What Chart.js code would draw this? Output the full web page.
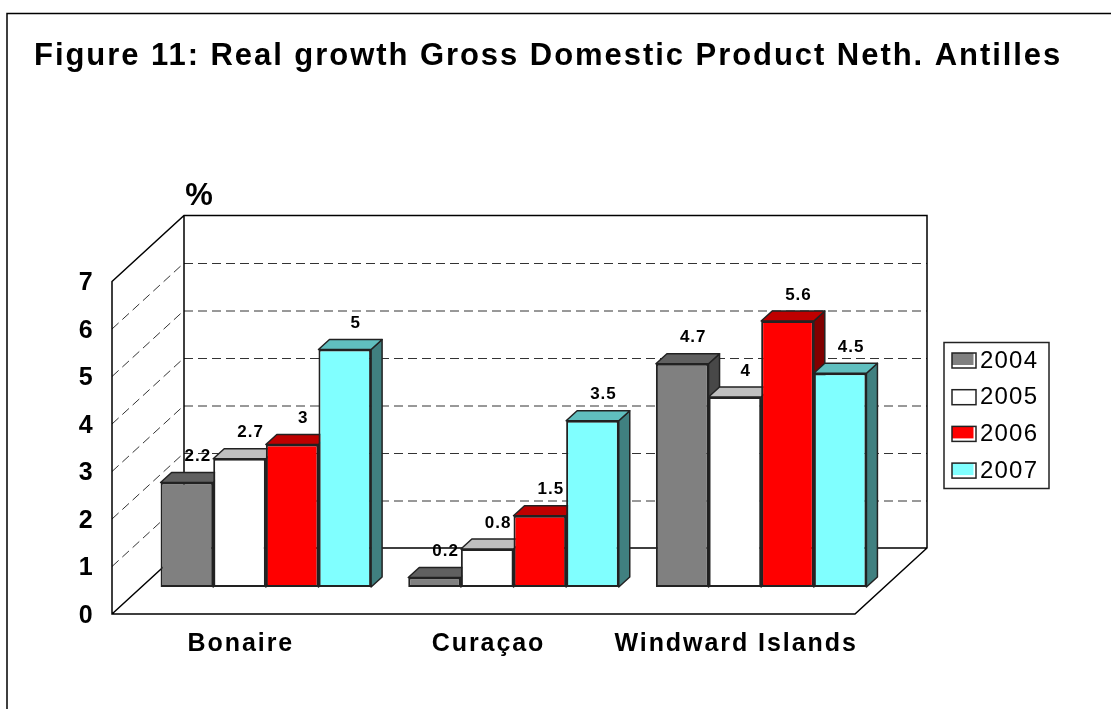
<!DOCTYPE html>
<html>
<head>
<meta charset="utf-8">
<title>Figure 11</title>
<style>
  html, body { margin: 0; padding: 0; background: #fff; }
  #wrap { position: relative; width: 1111px; height: 709px; }
  canvas { display: block; }
</style>
<script src="https://cdn.jsdelivr.net/npm/chart.js@4"></script>
</head>
<body>
<div id="wrap"><canvas id="growth" width="1111" height="709"></canvas></div>
<script>
var categories = ["Bonaire", "Curaçao", "Windward Islands"];
var years = ["2004", "2005", "2006", "2007"];
var values2004 = [2.2, 0.2, 4.7];
var values2005 = [2.7, 0.8, 4];
var values2006 = [3, 1.5, 5.6];
var values2007 = [5, 3.5, 4.5];
var yTicks = [0, 1, 2, 3, 4, 5, 6, 7];

var titleText = "Figure 11: Real growth Gross Domestic Product Neth. Antilles";
var unitText = "%";

// front, top and side colours of each series
var frontColors = ["#808080", "#ffffff", "#ff0000", "#80ffff"];
var topColors = ["#606060", "#bfbfbf", "#bf0000", "#60bfbf"];
var sideColors = ["#484848", "#808080", "#800000", "#408080"];

var FONT = '"Liberation Sans", Arial, sans-serif';
var BAR_DX = 11, BAR_DY = 10; // depth of a bar
var FRONT_DX = -30, FRONT_DY = 27; // floor front edge, from the bars' base
var BACK_DX = 42, BACK_DY = -39; // back wall, from the bars' base

function poly(ctx, pts, fill, stroke) {
  ctx.beginPath();
  ctx.moveTo(pts[0][0], pts[0][1]);
  for (var i = 1; i < pts.length; i++) ctx.lineTo(pts[i][0], pts[i][1]);
  ctx.closePath();
  if (fill) { ctx.fillStyle = fill; ctx.fill(); }
  if (stroke) { ctx.strokeStyle = stroke; ctx.stroke(); }
}

var box3d = {
  id: "box3d",
  afterLayout: function (chart) {
    // the right padding would otherwise squeeze the title through maxWidth
    chart.titleBlock.right = chart.width;
  },
  beforeDraw: function (chart) {
    // the original text is widely spaced, title and axis labels inherit this
    chart.ctx.letterSpacing = "1.95px";
  },
  beforeDatasetsDraw: function (chart) {
    var ctx = chart.ctx, y = chart.scales.y, a = chart.chartArea;
    var lx = a.left, rx = a.right, by = y.getPixelForValue(0), ty = y.getPixelForValue(7);
    ctx.save();

    // dashed grid on back and left walls
    ctx.lineWidth = 1;
    yTicks.forEach(function (t) {
      var py = y.getPixelForValue(t);
      if (t === 0 || t === 7) return;
      ctx.setLineDash([9, 5]);
      ctx.strokeStyle = "#333333";
      ctx.beginPath();
      ctx.moveTo(lx + BACK_DX, py + BACK_DY + 0.5);
      ctx.lineTo(rx + BACK_DX, py + BACK_DY + 0.5);
      ctx.stroke();
      ctx.beginPath();
      ctx.moveTo(lx + FRONT_DX, py + FRONT_DY);
      ctx.lineTo(lx + BACK_DX, py + BACK_DY);
      ctx.stroke();
    });
    ctx.setLineDash([]);

    // wall and floor outlines
    ctx.lineWidth = 1.5;
    ctx.strokeStyle = "#000000";
    ctx.beginPath();
    ctx.moveTo(lx + FRONT_DX, ty + FRONT_DY);
    ctx.lineTo(lx + BACK_DX, ty + BACK_DY);
    ctx.lineTo(rx + BACK_DX, ty + BACK_DY);
    ctx.lineTo(rx + BACK_DX, by + BACK_DY);
    ctx.lineTo(rx + FRONT_DX, by + FRONT_DY);
    ctx.lineTo(lx + FRONT_DX, by + FRONT_DY);
    ctx.closePath();
    ctx.moveTo(lx + BACK_DX, ty + BACK_DY);
    ctx.lineTo(lx + BACK_DX, by + BACK_DY);
    ctx.lineTo(rx + BACK_DX, by + BACK_DY);
    ctx.moveTo(lx + BACK_DX, by + BACK_DY);
    ctx.lineTo(lx + FRONT_DX, by + FRONT_DY);
    ctx.stroke();

    // top and side faces, left to right so nearer faces cover
    ctx.lineWidth = 1.5;
    ctx.lineJoin = "round";
    categories.forEach(function (c, ci) {
      chart.data.datasets.forEach(function (ds, di) {
        var bar = chart.getDatasetMeta(di).data[ci];
        var l = bar.x - bar.width / 2, r = bar.x + bar.width / 2, t = bar.y, b = bar.base;
        poly(ctx, [[r, t], [r + BAR_DX, t - BAR_DY], [r + BAR_DX, b - BAR_DY], [r, b]], sideColors[di], "#222222");
        poly(ctx, [[l, t], [l + BAR_DX, t - BAR_DY], [r + BAR_DX, t - BAR_DY], [r, t]], topColors[di], "#222222");
      });
    });
    ctx.restore();
  },
  afterDatasetsDraw: function (chart) {
    var ctx = chart.ctx;
    ctx.save();
    ctx.fillStyle = "#000000";
    ctx.font = "bold 17px " + FONT;
    ctx.letterSpacing = "1px";
    ctx.textAlign = "center";
    ctx.textBaseline = "middle";
    chart.data.datasets.forEach(function (ds, di) {
      chart.getDatasetMeta(di).data.forEach(function (bar, ci) {
        ctx.fillText(String(ds.data[ci]), bar.x + 11, bar.y - 26);
      });
    });

    // unit label above the left wall
    var a = chart.chartArea;
    ctx.letterSpacing = "0px";
    ctx.font = "bold 31px " + FONT;
    ctx.fillText(unitText, a.left + 57, 196);

    // legend box
    ctx.lineWidth = 1.5;
    ctx.strokeStyle = "#222222";
    ctx.strokeRect(944, 342.5, 105, 146);
    ctx.font = "24px " + FONT;
    ctx.letterSpacing = "1.2px";
    ctx.textAlign = "left";
    years.forEach(function (yr, i) {
      var ry = 353 + i * 36.7;
      ctx.fillStyle = frontColors[i];
      ctx.fillRect(952, ry, 21.5, 12);
      ctx.strokeStyle = "#222222";
      ctx.strokeRect(952, ry, 24, 15);
      ctx.fillStyle = "#000000";
      ctx.fillText(yr, 980, ry + 8);
    });

    // outer frame: only the top and left edges are in the picture
    ctx.lineWidth = 1.5;
    ctx.strokeStyle = "#000000";
    ctx.beginPath();
    ctx.moveTo(7, 709);
    ctx.lineTo(7, 13.5);
    ctx.lineTo(1111, 13.5);
    ctx.stroke();
    ctx.restore();
  }
};

new Chart(document.getElementById("growth"), {
  type: "bar",
  plugins: [box3d],
  data: {
    labels: categories,
    datasets: [
      { label: years[0], data: values2004, backgroundColor: frontColors[0] },
      { label: years[1], data: values2005, backgroundColor: frontColors[1] },
      { label: years[2], data: values2006, backgroundColor: frontColors[2] },
      { label: years[3], data: values2007, backgroundColor: frontColors[3] }
    ]
  },
  options: {
    responsive: false,
    animation: false,
    devicePixelRatio: 1,
    layout: { padding: { left: 34, right: 226, top: 0, bottom: 0 } },
    datasets: {
      bar: {
        categoryPercentage: 0.85,
        barPercentage: 1,
        borderWidth: 2,
        borderColor: "#222222",
        borderSkipped: false
      }
    },
    plugins: {
      legend: { display: false },
      tooltip: { enabled: false },
      title: {
        display: true,
        text: titleText,
        align: "start",
        color: "#000000",
        font: { family: FONT, size: 31, weight: "bold", lineHeight: 1 },
        padding: { top: 40.5, bottom: 183 }
      }
    },
    scales: {
      x: {
        grid: { display: false },
        border: { display: false },
        afterFit: function (scale) { scale.height = 122; },
        ticks: {
          color: "#000000",
          padding: 34.5,
          labelOffset: -25,
          maxRotation: 0,
          font: { family: FONT, size: 25, weight: "bold" }
        }
      },
      y: {
        min: 0,
        max: 7,
        grid: { display: false },
        border: { display: false },
        afterFit: function (scale) { scale.width = 108; },
        afterBuildTicks: function (scale) {
          scale.ticks = yTicks.map(function (v) { return { value: v }; });
        },
        ticks: {
          color: "#000000",
          padding: 39.5,
          labelOffset: 29,
          font: { family: FONT, size: 25, weight: "bold" }
        }
      }
    }
  }
});
</script>
</body>
</html>
